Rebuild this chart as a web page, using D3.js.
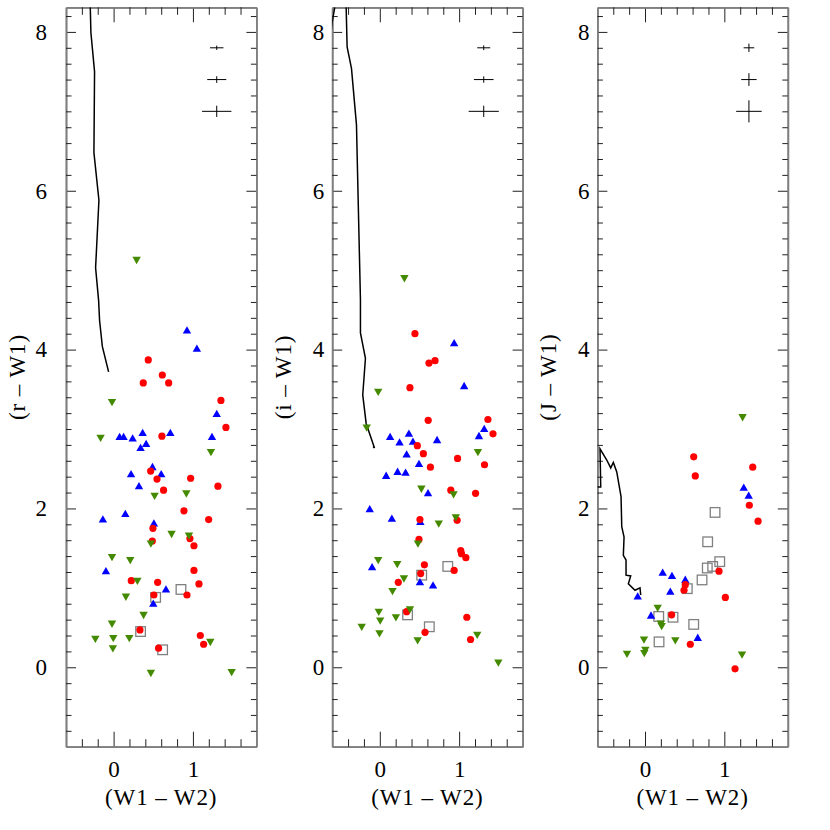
<!DOCTYPE html>
<html lang="en">
<head>
<meta charset="utf-8">
<title>WISE colour panels</title>
<script src="https://cdn.jsdelivr.net/npm/d3@7"></script>
<style>
  body { margin: 0; background: #fff; }
  .axis .domain { stroke: #808080; stroke-width: 1.7; }
  .axis line { stroke: #222; stroke-width: 1; }
  .axis text { fill: #000; }
</style>
</head>
<body>
<script>
// axis labels
var yTitles = ["(r \u2013 W1)", "(i \u2013 W1)", "(J \u2013 W1)"];
var xTitle = "(W1 \u2013 W2)";
var xMajor = [0, 1];
var yMajor = [0, 2, 4, 6, 8];

// panel 1 : (r - W1) vs (W1 - W2)
var p1Red = [[0.437,3.87],[0.614,3.68],[0.374,3.58],[0.694,3.58],[1.353,3.36],[1.416,3.02],[0.609,2.91],
  [0.467,2.47],[0.547,2.37],[0.971,2.38],[0.63,2.23],[1.315,2.28],[0.887,1.97],[1.198,1.86],[0.496,1.75],
  [0.488,1.59],[0.962,1.62],[1.013,1.53],[1.013,1.22],[0.223,1.09],[0.555,1.07],[1.076,1.05],[0.508,0.91],
  [0.925,0.91],[0.332,0.47],[1.093,0.40],[1.135,0.29],[0.567,0.24]];
var p1Blue = [[0.925,4.24],[1.05,4.01],[1.30,3.19],[0.076,2.90],[0.126,2.90],[0.24,2.88],[0.366,2.95],
  [0.41,2.81],[0.34,2.76],[0.715,2.95],[1.24,2.90],[0.49,2.52],[0.60,2.43],[0.22,2.43],[0.32,2.28],
  [-0.135,1.86],[0.148,1.93],[0.508,1.81],[-0.097,1.21],[0.66,0.98],[0.50,0.80]];
var p1Green = [[0.29,5.13],[-0.02,3.34],[-0.164,2.89],[1.227,2.71],[0.517,2.16],[0.917,2.19],[0.731,1.68],
  [0.95,1.66],[0.47,1.56],[-0.02,1.39],[0.21,1.35],[0.30,1.09],[0.155,0.89],[0.378,0.66],[-0.02,0.55],
  [-0.23,0.36],[-0.004,0.37],[0.198,0.37],[-0.009,0.24],[1.219,0.32],[0.47,-0.07],[1.488,-0.06]];
var p1Square = [[0.849,0.98],[0.53,0.88],[0.34,0.45],[0.618,0.22]];
var p1Track = [[[-0.294,8.31],[-0.286,7.99],[-0.24,7.50],[-0.248,6.48],[-0.185,5.88],[-0.227,5.03],
  [-0.189,4.62],[-0.177,4.37],[-0.142,4.04],[-0.063,3.72]]];
var p1ErrX = [0.085, 0.12, 0.185];
var p1ErrY = [0.027, 0.042, 0.071];

// panel 2 : (i - W1) vs (W1 - W2)
var p2Red = [[0.443,4.20],[0.62,3.83],[0.696,3.86],[0.38,3.52],[0.61,3.11],[1.363,3.12],[1.427,2.94],
  [0.473,2.79],[0.549,2.69],[0.98,2.63],[0.638,2.52],[1.32,2.55],[0.895,2.23],[1.207,2.19],[0.506,1.86],
  [0.975,1.85],[0.494,1.61],[1.02,1.47],[1.03,1.43],[1.085,1.38],[0.562,1.29],[0.515,1.18],[0.937,1.22],
  [0.233,1.07],[0.338,0.70],[1.097,0.63],[0.57,0.44],[1.144,0.35]];
var p2Blue = [[0.937,4.08],[1.063,3.54],[1.316,3.00],[1.25,2.91],[0.13,2.90],[0.367,2.94],[0.249,2.83],
  [0.418,2.84],[0.722,2.86],[0.338,2.68],[0.494,2.56],[0.08,2.41],[0.224,2.46],[0.325,2.45],[0.608,2.19],
  [-0.127,1.99],[0.152,1.87],[0.511,1.83],[-0.097,1.26],[0.506,1.07],[0.671,1.03]];
var p2Green = [[0.31,4.90],[-0.02,3.47],[-0.165,3.02],[1.237,2.71],[0.524,2.25],[0.93,2.18],[0.958,1.89],
  [0.743,1.81],[0.481,1.56],[-0.02,1.35],[0.22,1.30],[0.304,1.12],[0.16,0.96],[0.38,0.73],[-0.013,0.70],
  [0.005,0.59],[0.203,0.63],[-0.228,0.51],[-0.004,0.43],[0.477,0.34],[1.228,0.41],[1.494,0.06]];
var p2Square = [[0.857,1.27],[0.528,1.16],[0.35,0.66],[0.624,0.51]];
var p2Track = [[[-0.568,8.31],[-0.601,8.12],[-0.62,7.95]],
  [[-0.424,8.31],[-0.412,7.81],[-0.357,7.54],[-0.294,6.83],[-0.273,5.90],[-0.244,4.63],[-0.244,4.21],
   [-0.181,3.89],[-0.215,3.43],[-0.172,3.07],[-0.067,2.76],[-0.085,2.78]]];
var p2ErrX = [0.082, 0.124, 0.19];
var p2ErrY = [0.03, 0.04, 0.071];

// panel 3 : (J - W1) vs (W1 - W2)
var p3Red = [[0.614,2.65],[0.634,2.41],[1.358,2.52],[1.315,2.04],[1.425,1.84],[0.933,1.21],[0.508,1.04],
  [0.492,0.97],[1.013,0.88],[0.336,0.66],[0.571,0.29],[1.135,-0.02]];
var p3Blue = [[1.245,2.26],[1.307,2.16],[0.223,1.19],[0.34,1.15],[0.508,1.10],[0.319,0.95],[-0.092,0.89],
  [0.076,0.65],[0.665,0.37]];
var p3Green = [[1.23,3.15],[0.16,0.75],[0.20,0.55],[0.21,0.52],[-0.013,0.35],[0.382,0.34],[0.004,0.22],
  [-0.009,0.18],[-0.227,0.17],[1.223,0.16]];
var p3Square = [[0.883,1.95],[0.79,1.58],[0.942,1.33],[0.853,1.27],[0.785,1.25],[0.719,1.10],[0.533,0.99],
  [0.173,0.64],[0.353,0.63],[0.614,0.54],[0.177,0.32]];
var p3Track = [[[-0.600,2.27],[-0.558,2.27],[-0.567,2.75],[-0.482,2.61],[-0.432,2.51],[-0.399,2.58],
  [-0.356,2.46],[-0.302,2.15],[-0.293,1.77],[-0.264,1.64],[-0.273,1.41],[-0.239,1.35],[-0.239,1.16],
  [-0.180,1.15],[-0.210,1.05],[-0.126,0.97],[-0.063,1.00],[-0.054,0.91]]];
var p3ErrX = [0.067, 0.097, 0.161];
var p3ErrY = [0.053, 0.08, 0.139];

// error-bar centres (same rows in every panel)
var errXc = [1.30, 1.31, 1.31];
var errYc = [7.8, 7.4, 7.0];

var panels = [
  {title: yTitles[0], red: p1Red, blue: p1Blue, green: p1Green, sq: p1Square, track: p1Track, ex: p1ErrX, ey: p1ErrY, xc: errXc[0]},
  {title: yTitles[1], red: p2Red, blue: p2Blue, green: p2Green, sq: p2Square, track: p2Track, ex: p2ErrX, ey: p2ErrY, xc: errXc[1]},
  {title: yTitles[2], red: p3Red, blue: p3Blue, green: p3Green, sq: p3Square, track: p3Track, ex: p3ErrX, ey: p3ErrY, xc: errXc[2]}
];

var w = 830, h = 830;
var lefts = [66, 332.2, 597.4];
var labelPad = [19, 8, 8];   // first panel's y labels sit further out
var top0 = 7.3;
var pw = 190.4, ph = 739.4;
var serif = "'Liberation Serif', 'Times New Roman', serif";

var svg = d3.select("body").append("svg")
  .attr("width", w)
  .attr("height", h)
  .style("font-family", serif);

var xScale = d3.scaleLinear().domain([-0.6, 1.8]).range([0, pw]);
var yScale = d3.scaleLinear().domain([-1, 8.31]).range([ph, 0]);

var xMinor = d3.range(-0.6, 1.81, 0.2).map(function(v) { return +v.toFixed(1); })
  .filter(function(v) { return xMajor.indexOf(v) < 0 && v > -0.6 && v < 1.8; });
var yMinor = d3.range(-1, 8.31, 0.2).map(function(v) { return +v.toFixed(1); })
  .filter(function(v) { return yMajor.indexOf(v) < 0 && v > -1 && v < 8.3; });

var greenCol = "#448a00";

function addAxis(g, axis, tx, ty) {
  var a = g.append("g").attr("class", "axis")
    .attr("transform", "translate(" + tx + "," + ty + ")")
    .call(axis)
    .attr("font-family", null)
    .attr("font-size", null);
  a.selectAll("text").style("font-family", serif).style("font-size", "23px");
  return a;
}

panels.forEach(function(p, i) {
  var g = svg.append("g").attr("transform", "translate(" + lefts[i] + "," + top0 + ")");

  g.append("clipPath").attr("id", "clip" + i)
    .append("rect").attr("width", pw).attr("height", ph);

  //bottom axis: major with labels, then minor
  addAxis(g, d3.axisBottom(xScale).tickValues(xMajor).tickSize(-15).tickSizeOuter(0).tickPadding(14).tickFormat(d3.format("d")), 0, ph);
  addAxis(g, d3.axisBottom(xScale).tickValues(xMinor).tickSize(-7.5).tickSizeOuter(0).tickFormat(""), 0, ph);
  //top axis
  addAxis(g, d3.axisTop(xScale).tickValues(xMajor).tickSize(-15).tickSizeOuter(0).tickFormat(""), 0, 0);
  addAxis(g, d3.axisTop(xScale).tickValues(xMinor).tickSize(-7.5).tickSizeOuter(0).tickFormat(""), 0, 0);
  //left axis
  addAxis(g, d3.axisLeft(yScale).tickValues(yMajor).tickSize(-10).tickSizeOuter(0).tickPadding(labelPad[i]).tickFormat(d3.format("d")), 0, 0);
  addAxis(g, d3.axisLeft(yScale).tickValues(yMinor).tickSize(-5.5).tickSizeOuter(0).tickFormat(""), 0, 0);
  //right axis
  addAxis(g, d3.axisRight(yScale).tickValues(yMajor).tickSize(-10).tickSizeOuter(0).tickFormat(""), pw, 0);
  addAxis(g, d3.axisRight(yScale).tickValues(yMinor).tickSize(-5.5).tickSizeOuter(0).tickFormat(""), pw, 0);

  // axis titles
  g.append("text")
    .attr("x", pw / 2)
    .attr("y", ph + 58)
    .attr("text-anchor", "middle")
    .style("font-size", "23px")
    .style("letter-spacing", "0.9px")
    .text(xTitle);
  g.append("text")
    .attr("transform", "translate(-41," + (ph / 2) + ") rotate(-90)")
    .attr("text-anchor", "middle")
    .style("font-size", "23px")
    .style("letter-spacing", "0.9px")
    .text(p.title);

  // model track
  var line = d3.line()
    .x(function(d) { return xScale(d[0]); })
    .y(function(d) { return yScale(d[1]); });
  g.append("g").attr("clip-path", "url(#clip" + i + ")")
    .selectAll("path")
    .data(p.track)
    .enter()
    .append("path")
    .attr("d", line)
    .attr("fill", "none")
    .attr("stroke", "#000")
    .attr("stroke-width", 1.5);

  // error bar crosses
  var eb = g.append("g").attr("stroke", "#000").attr("stroke-width", 1);
  errYc.forEach(function(yc, k) {
    eb.append("line")
      .attr("x1", xScale(p.xc - p.ex[k])).attr("x2", xScale(p.xc + p.ex[k]))
      .attr("y1", yScale(yc)).attr("y2", yScale(yc));
    eb.append("line")
      .attr("x1", xScale(p.xc)).attr("x2", xScale(p.xc))
      .attr("y1", yScale(yc - p.ey[k])).attr("y2", yScale(yc + p.ey[k]));
  });

  // open squares
  g.selectAll("rect.sq")
    .data(p.sq)
    .enter()
    .append("rect")
    .attr("class", "sq")
    .attr("x", function(d) { return xScale(d[0]) - 4.8; })
    .attr("y", function(d) { return yScale(d[1]) - 4.8; })
    .attr("width", 9.6)
    .attr("height", 9.6)
    .attr("fill", "none")
    .attr("stroke", "#808080")
    .attr("stroke-width", 1.3);

  // blue upward triangles
  g.selectAll("path.blue")
    .data(p.blue)
    .enter()
    .append("path")
    .attr("class", "blue")
    .attr("d", "M0,-4.3L4.2,3L-4.2,3Z")
    .attr("transform", function(d) { return "translate(" + xScale(d[0]) + "," + yScale(d[1]) + ")"; })
    .attr("fill", "#0000ff");

  // red circles
  g.selectAll("circle")
    .data(p.red)
    .enter()
    .append("circle")
    .attr("cx", function(d) { return xScale(d[0]); })
    .attr("cy", function(d) { return yScale(d[1]); })
    .attr("r", 3.6)
    .attr("fill", "#ff0000");

  // green downward triangles
  g.selectAll("path.green")
    .data(p.green)
    .enter()
    .append("path")
    .attr("class", "green")
    .attr("d", "M-4.2,-3L4.2,-3L0,4.3Z")
    .attr("transform", function(d) { return "translate(" + xScale(d[0]) + "," + yScale(d[1]) + ")"; })
    .attr("fill", greenCol);
});
</script>
</body>
</html>
